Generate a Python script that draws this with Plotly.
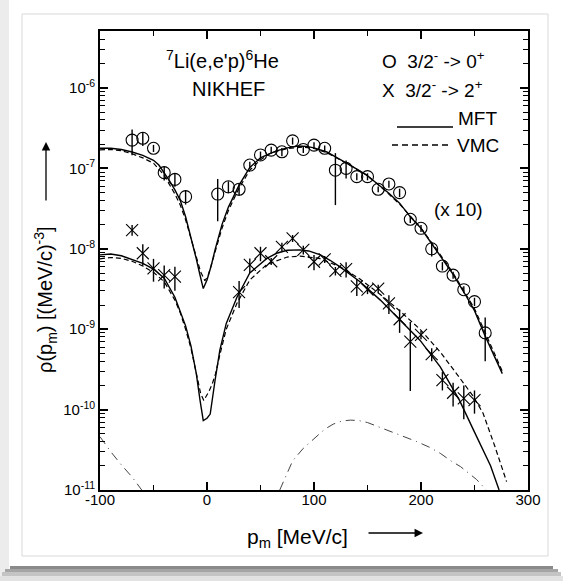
import plotly.graph_objects as go

# ---------------- data ----------------
circ_x = [-70, -60, -50, -40, -30, -20, 10, 20, 30, 40, 50, 60, 70, 80, 90, 100, 110,
          120, 130, 140, 150, 160, 170, 180, 190, 200, 210, 220, 230, 240, 250, 260]
circ_y = [2.25e-7, 2.37e-7, 1.78e-7, 8.85e-8, 7.3e-8, 4.45e-8, 4.8e-8, 5.9e-8, 5.5e-8,
          1.1e-7, 1.47e-7, 1.69e-7, 1.61e-7, 2.2e-7, 1.72e-7, 1.95e-7, 1.78e-7,
          9.5e-8, 1.0e-7, 7.9e-8, 7.9e-8, 5.5e-8, 6.4e-8, 5.0e-8, 2.33e-8, 1.8e-8,
          1.0e-8, 6.1e-9, 4.7e-9, 3.1e-9, 2.2e-9, 9.0e-10]
circ_err = [7.9e-8, 4.7e-8, 1.8e-8, 1.8e-8, 1.4e-8, 9e-9, 2.6e-8, 1.0e-8, 9.4e-9,
            1.1e-8, 1.5e-8, 1.7e-8, 1.9e-8, 2.2e-8, 1.7e-8, 1.6e-8, 1.4e-8,
            6.0e-8, 2.5e-8, 7.9e-9, 7.9e-9, 4.4e-9, 6.4e-9, 6.0e-9, 2.3e-9, 1.8e-9,
            2.0e-9, 7.3e-10, 4.7e-10, 3.1e-10, 2.6e-10, 5.0e-10]

xs_x = [-70, -60, -50, -40, -30, 30, 40, 50, 60, 70, 80, 90, 100, 110, 120, 130, 140,
        150, 160, 170, 180, 190, 200, 210, 220, 230, 240, 250]
xs_y = [1.71e-8, 8.8e-9, 5.7e-9, 4.7e-9, 4.5e-9, 2.9e-9, 6.3e-9, 8.8e-9, 7.0e-9,
        1.06e-8, 1.35e-8, 9.7e-9, 6.9e-9, 7.4e-9, 5.3e-9, 5.6e-9, 3.4e-9, 3.1e-9,
        3.2e-9, 2.1e-9, 1.33e-9, 7.0e-10, 8.5e-10, 4.9e-10, 2.33e-10, 1.62e-10,
        1.38e-10, 1.31e-10]
xs_err = [2.6e-9, 2.6e-9, 1.8e-9, 1.5e-9, 1.5e-9, 1.07e-9, 1.3e-9, 1.8e-9, 7e-10,
          1.3e-9, 1.35e-9, 1.2e-9, 1.5e-9, 7.4e-10, 6.4e-10, 1.2e-9, 8.2e-10, 3.7e-10,
          3.8e-10, 5.5e-10, 4.3e-10, 5.3e-10, 1.0e-10, 9e-11, 6e-11, 5.3e-11,
          6.2e-11, 4.2e-11]

mft_up_x = [-100, -90, -80, -70, -60, -50, -45, -40, -35, -30, -25, -20, -15, -10, -7,
            -3.5, 0, 4, 7.5, 10, 14, 20, 25, 30, 40, 50, 56, 65, 75, 85, 93, 100, 112,
            118, 130, 140, 149, 160, 170, 180, 190, 200, 210, 220, 230, 240, 250, 260,
            268, 276]
mft_up_y = [1.78e-7, 1.78e-7, 1.72e-7, 1.6e-7, 1.45e-7, 1.26e-7, 1.1e-7, 8.9e-8, 7.0e-8,
            5.4e-8, 4.0e-8, 2.5e-8, 1.4e-8, 7.5e-9, 5.0e-9, 3.2e-9, 4.1e-9, 6.2e-9,
            9.7e-9, 1.3e-8, 2.0e-8, 3.3e-8, 4.5e-8, 6.2e-8, 1.03e-7, 1.35e-7, 1.47e-7,
            1.65e-7, 1.8e-7, 1.9e-7, 1.88e-7, 1.8e-7, 1.6e-7, 1.45e-7, 1.17e-7, 9.8e-8,
            8.3e-8, 6.3e-8, 4.9e-8, 3.7e-8, 2.5e-8, 1.8e-8, 1.15e-8, 7.5e-9, 4.8e-9,
            2.9e-9, 1.7e-9, 8.2e-10, 4.8e-10, 2.8e-10]

vmc_up_x = [-100, -90, -80, -70, -60, -50, -40, -30, -25, -20, -15, -10, -6, -2, 1, 4, 8,
            14, 20, 25, 30, 40, 50, 60, 75, 90, 100, 112, 120, 135, 150, 165, 180, 200,
            212, 230, 250, 265, 276]
vmc_up_y = [1.7e-7, 1.72e-7, 1.66e-7, 1.52e-7, 1.35e-7, 1.16e-7, 8.2e-8, 4.8e-8, 3.5e-8,
            2.3e-8, 1.35e-8, 7.8e-9, 5.2e-9, 4.0e-9, 4.6e-9, 6.3e-9, 9.5e-9, 1.8e-8,
            3.0e-8, 4.2e-8, 5.7e-8, 9.5e-8, 1.28e-7, 1.57e-7, 1.76e-7, 1.84e-7, 1.77e-7,
            1.57e-7, 1.38e-7, 1.07e-7, 8.1e-8, 5.5e-8, 3.6e-8, 1.8e-8, 1.1e-8, 5.0e-9,
            1.8e-9, 6.5e-10, 3.0e-10]

mft_lo_x = [-100, -90, -80, -70, -60, -50, -40, -30, -25, -20, -15, -10, -6.5, -3.5, 0, 3,
            7.5, 12, 18, 28, 40, 56, 65, 75, 87, 95, 106, 115, 124, 143, 162, 180, 199,
            218, 236, 249, 258, 265, 273]
mft_lo_y = [8.4e-9, 8.6e-9, 8.2e-9, 7.4e-9, 6.6e-9, 5.6e-9, 4.3e-9, 2.5e-9, 1.7e-9,
            1.1e-9, 6.2e-10, 2.8e-10, 1.3e-10, 7.3e-11, 7.8e-11, 8.8e-11, 2.3e-10,
            5.5e-10, 1.18e-9, 2.5e-9, 5.0e-9, 7.6e-9, 8.8e-9, 9.6e-9, 9.7e-9, 9.4e-9,
            8.4e-9, 7.2e-9, 6.0e-9, 3.9e-9, 2.3e-9, 1.3e-9, 7.3e-10, 3.4e-10, 1.3e-10,
            5.6e-11, 3.2e-11, 2.0e-11, 1.0e-11]

vmc_lo_x = [-100, -90, -80, -70, -60, -50, -40, -30, -25, -20, -15, -10, -6, -3, 0, 2, 5,
            8, 12, 18, 28, 40, 56, 75, 87, 105, 124, 143, 162, 180, 199, 218, 236, 249,
            258, 269, 280]
vmc_lo_y = [7.5e-9, 7.8e-9, 7.6e-9, 7.0e-9, 6.1e-9, 5.1e-9, 3.9e-9, 2.3e-9, 1.6e-9,
            1.0e-9, 5.8e-10, 2.9e-10, 1.6e-10, 1.3e-10, 1.5e-10, 1.7e-10, 2.1e-10,
            2.8e-10, 4.8e-10, 1.0e-9, 2.1e-9, 4.1e-9, 6.4e-9, 7.9e-9, 8.1e-9, 7.6e-9,
            6.0e-9, 4.2e-9, 2.7e-9, 1.7e-9, 1.0e-9, 5.2e-10, 2.5e-10, 1.45e-10, 9e-11,
            3.5e-11, 1.27e-11]

dd_x = [-100, -90, -80, -70, -61, None, 68, 80, 90, 100, 110, 118, 126, 134, 142, 150,
        162, 174, 186, 196, 208, 218, 228, 237, 245, 252, 261]
dd_y = [4.6e-11, 3.0e-11, 2.05e-11, 1.45e-11, 1.0e-11, None, 1.0e-11, 2.3e-11, 3.3e-11,
        4.4e-11, 5.7e-11, 6.6e-11, 7.2e-11, 7.4e-11, 7.3e-11, 6.9e-11, 6.0e-11, 5.2e-11,
        4.5e-11, 4.0e-11, 3.4e-11, 2.86e-11, 2.3e-11, 1.95e-11, 1.6e-11, 1.35e-11,
        1.0e-11]

x_tick_vals = [-100, 0, 100, 200, 300]
x_tick_text = ["-100", "0", "100", "200", "300"]
y_tick_vals = [1e-11, 1e-10, 1e-9, 1e-8, 1e-7, 1e-6]
y_tick_text = ["10<sup>-11</sup>", "10<sup>-10</sup>", "10<sup>-9</sup>",
               "10<sup>-8</sup>", "10<sup>-7</sup>", "10<sup>-6</sup>"]

# ---------------- geometry helpers (pixels -> paper) ----------------
W, H = 563, 581
L, R, T, B = 100, 528, 31, 490


def P(px, py):
    return (px - L) / (R - L), (B - py) / (B - T)


FONT = "Liberation Sans, Arial, Helvetica, sans-serif"
BLK = "black"

fig = go.Figure()

fig.add_trace(go.Scatter(x=dd_x, y=dd_y, mode="lines", connectgaps=False,
                         line=dict(color="#444", width=1, dash="9px,5px,1px,5px"),
                         hoverinfo="skip"))
fig.add_trace(go.Scatter(x=vmc_up_x, y=vmc_up_y, mode="lines",
                         line=dict(color=BLK, width=1.2, dash="5px,3px")))
fig.add_trace(go.Scatter(x=mft_up_x, y=mft_up_y, mode="lines",
                         line=dict(color=BLK, width=1.4)))
fig.add_trace(go.Scatter(x=vmc_lo_x, y=vmc_lo_y, mode="lines",
                         line=dict(color=BLK, width=1.2, dash="5px,3px")))
fig.add_trace(go.Scatter(x=mft_lo_x, y=mft_lo_y, mode="lines",
                         line=dict(color=BLK, width=1.4)))

fig.add_trace(go.Scatter(
    x=circ_x, y=circ_y, mode="markers",
    marker=dict(symbol="circle-open", size=12, color=BLK, line=dict(width=1.1, color=BLK)),
    error_y=dict(type="data", array=circ_err, visible=True, width=0, thickness=1.4, color=BLK)))
fig.add_trace(go.Scatter(
    x=xs_x, y=xs_y, mode="markers",
    marker=dict(symbol="x-thin-open", size=12, color=BLK, line=dict(width=1.1, color=BLK)),
    error_y=dict(type="data", array=xs_err, visible=True, width=0, thickness=1.4, color=BLK)))

axis_common = dict(showline=True, linecolor=BLK, linewidth=1.8, mirror="ticks",
                   ticks="inside", ticklen=8, tickwidth=1.5, tickcolor=BLK,
                   showgrid=False, zeroline=False,
                   tickfont=dict(family=FONT, size=15, color=BLK))

fig.update_xaxes(range=[-100, 300], tickmode="array", tickvals=x_tick_vals,
                 ticktext=x_tick_text, ticklabelstandoff=-5,
                 minor=dict(ticks="inside", ticklen=5, tickwidth=1.2, tickcolor=BLK,
                            tickmode="array", tickvals=[-50, 50, 150, 250], showgrid=False),
                 **axis_common)

y_minor = [k * 10.0 ** e for e in range(-11, -5) for k in range(2, 10)]
fig.update_yaxes(type="log", range=[-11, -11 + (B - T) / 80.4], tickmode="array",
                 tickvals=y_tick_vals, ticktext=y_tick_text,
                 minor=dict(ticks="inside", ticklen=5, tickwidth=1.0, tickcolor=BLK,
                            tickmode="array", tickvals=y_minor, showgrid=False),
                 **axis_common)

ann = []


def text(px, py, s, size=20, xanchor="center", yanchor="middle", angle=0):
    x, y = P(px, py)
    ann.append(dict(x=x, y=y, xref="paper", yref="paper", text=s, showarrow=False,
                    xanchor=xanchor, yanchor=yanchor, textangle=angle,
                    font=dict(family=FONT, size=size, color=BLK)))


NB = "\u00a0"
text(222, 60, "<sup>7</sup>Li(e,e'p)<sup>6</sup>He", 20)
text(228, 89, "NIKHEF", 20)
text(380, 60, "O" + NB * 2 + "3/2<sup>-</sup> -> 0<sup>+</sup>", 19, xanchor="left")
text(380, 89, "X" + NB * 2 + "3/2<sup>-</sup> -> 2<sup>+</sup>", 19, xanchor="left")
text(456, 118, "MFT", 19, xanchor="left")
text(455, 145, "VMC", 19, xanchor="left")
text(458, 209, "(x 10)", 19)
text(297, 538, "p<sub>m</sub> [MeV/c]", 21)
text(45, 300, "\u03c1(p<sub>m</sub>) [(MeV/c)<sup>-3</sup>]", 20, angle=-90)

# axis arrows
hx, hy = P(423, 533)
ann.append(dict(x=hx, y=hy, xref="paper", yref="paper", text="", showarrow=True,
                ax=-56, ay=0, arrowhead=2, arrowsize=1.3, arrowwidth=1.3, arrowcolor=BLK))
vx, vy = P(46, 142)
ann.append(dict(x=vx, y=vy, xref="paper", yref="paper", text="", showarrow=True,
                ax=0, ay=60, arrowhead=2, arrowsize=1.3, arrowwidth=1.3, arrowcolor=BLK))

shapes = []


def seg(x0, y0, x1, y1, **line):
    a, b = P(x0, y0)
    c, d = P(x1, y1)
    shapes.append(dict(type="line", xref="paper", yref="paper", x0=a, y0=b, x1=c, y1=d,
                       line=line))


def rect(x0, y0, x1, y1, fill, lc=None, lw=0):
    a, b = P(x0, y0)
    c, d = P(x1, y1)
    shapes.append(dict(type="rect", xref="paper", yref="paper", x0=a, y0=b, x1=c, y1=d,
                       fillcolor=fill, line=dict(color=lc or fill, width=lw), layer="below"))


# legend line samples
seg(397, 127, 453, 127, color=BLK, width=1.3)
seg(392, 145, 452, 145, color=BLK, width=1.3, dash="6px,4px")

# page decoration: thin frame + bottom shadow
rect(0, 0, 9, 581, "#ececec")
rect(22, 14, 548, 556, "rgba(0,0,0,0)", lc="#d9d9d9", lw=1)
rect(10, 566, 553, 569, "#8a8a8a")
rect(5, 569, 558, 572, "#a5a5a5")
rect(2, 572, 561, 576, "#c4c4c4")
rect(0, 576, 563, 581, "#e2e2e2")

fig.update_layout(width=W, height=H, margin=dict(l=L, r=W - R, t=T, b=H - B),
                  paper_bgcolor="white", plot_bgcolor="white", showlegend=False,
                  annotations=ann, shapes=shapes,
                  font=dict(family=FONT, color=BLK))

fig.write_html("out.html")
